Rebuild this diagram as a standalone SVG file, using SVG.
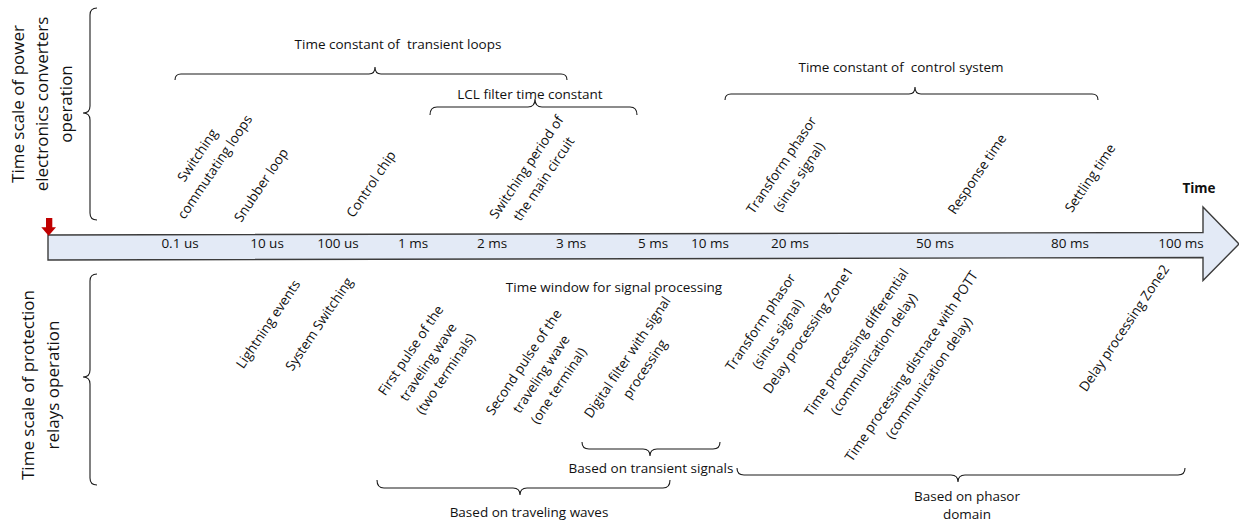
<svg xmlns="http://www.w3.org/2000/svg" width="1239" height="523" viewBox="0 0 1239 523">
<style>
text{font-family:"Open Sans","Liberation Sans",sans-serif;fill:#111;}
.t{font-size:13.5px;}
.tk{font-size:13.5px;text-anchor:middle;}
.lab{font-size:13.5px;text-anchor:middle;}
.big{font-size:17px;text-anchor:middle;}
.brace{fill:none;stroke:#1a1a1a;stroke-width:1.1;}
</style>
<rect width="1239" height="523" fill="#fff"/>
<g id="time-axis">
<polygon points="48,235 1203,232.5 1203,207 1239,244 1203,280.5 1203,257.5 48,260" fill="#e3eaf6" stroke="#3c3c3c" stroke-width="1.4"/>
<rect x="46" y="218" width="6.3" height="10" fill="#c00000"/>
<polygon points="41.3,227.3 56,227.3 48.6,235.7" fill="#c00000"/>
<text x="1199" y="193" style="font-size:13.5px;font-weight:bold;text-anchor:middle">Time</text>
</g>
<g id="ticks">
<text class="tk" x="180" y="248">0.1 us</text>
<text class="tk" x="267" y="248">10 us</text>
<text class="tk" x="338" y="248">100 us</text>
<text class="tk" x="413" y="248">1 ms</text>
<text class="tk" x="492" y="248">2 ms</text>
<text class="tk" x="571" y="248">3 ms</text>
<text class="tk" x="653" y="248">5 ms</text>
<text class="tk" x="710" y="248">10 ms</text>
<text class="tk" x="790" y="248">20 ms</text>
<text class="tk" x="935" y="248">50 ms</text>
<text class="tk" x="1070" y="248">80 ms</text>
<text class="tk" x="1181" y="248">100 ms</text>
</g>
<g id="label-power-electronics">
<text class="big" transform="translate(24,104) rotate(-90)"><tspan x="0" y="0">Time scale of power</tspan><tspan x="0" y="24">electronics converters</tspan><tspan x="0" y="48">operation</tspan></text>
</g>
<g id="label-protection">
<text class="big" transform="translate(34,385) rotate(-90)"><tspan x="0" y="0">Time scale of protection</tspan><tspan x="0" y="24.5">relays operation</tspan></text>
</g>
<g id="connectors">
<path class="brace" d="M97,8 Q90,8 90,15 V106 Q90,113 83,113 Q90,113 90,120 V213 Q90,220 97,220"/>
<path class="brace" d="M97,274 Q90,274 90,281 V370 Q90,377 83,377 Q90,377 90,384 V478 Q90,485 97,485"/>
<path class="brace" d="M175,80 Q175,74 181,74 H369 Q375,74 375,67 Q375,74 381,74 H561 Q567,74 567,80"/>
<path class="brace" d="M430,115 Q430,107 437,107 H528 Q535,107 535,99 Q535,107 542,107 H630 Q637,107 637,115"/>
<path class="brace" d="M725,100 Q725,94 731,94 H909 Q915,94 915,87 Q915,94 921,94 H1092 Q1098,94 1098,100"/>
<path class="brace" d="M582,442 Q582,449 589,449 H643 Q650,449 650,456 Q650,449 657,449 H713 Q720,449 720,442"/>
<path class="brace" d="M377,480 Q377,488 384,488 H513 Q520,488 520,495 Q520,488 527,488 H663 Q670,488 670,480"/>
<path class="brace" d="M737,468 Q737,475 744,475 H951 Q958,475 958,482 Q958,475 965,475 H1178 Q1185,475 1185,468"/>
</g>
<g id="group-labels">
<text class="t" x="398" y="49" text-anchor="middle" xml:space="preserve">Time constant of  transient loops</text>
<text class="t" x="530" y="99" text-anchor="middle">LCL filter time constant</text>
<text class="t" x="901" y="72" text-anchor="middle" xml:space="preserve">Time constant of  control system</text>
<text class="t" x="614" y="292" text-anchor="middle">Time window for signal processing</text>
<text class="t" x="651" y="473" text-anchor="middle">Based on transient signals</text>
<text class="t" x="529" y="517" text-anchor="middle">Based on traveling waves</text>
<text class="t" text-anchor="middle"><tspan x="967" y="501">Based on phasor</tspan><tspan x="967" y="519">domain</tspan></text>
</g>
<g id="ev-switching"><text class="lab" transform="translate(206,161) rotate(-56)"><tspan x="0" y="-5.7">Switching</tspan><tspan x="0" y="15.3">commutating loops</tspan></text></g>
<g id="ev-snubber"><text class="lab" transform="translate(261,185) rotate(-56)"><tspan x="0" y="4.8">Snubber loop</tspan></text></g>
<g id="ev-control-chip"><text class="lab" transform="translate(371,184) rotate(-56)"><tspan x="0" y="4.8">Control chip</tspan></text></g>
<g id="ev-switching-period"><text class="lab" transform="translate(535,173) rotate(-56)"><tspan x="0" y="-5.7">Switching period of</tspan><tspan x="0" y="15.3">the main circuit</tspan></text></g>
<g id="ev-transform-top"><text class="lab" transform="translate(790,171) rotate(-56)"><tspan x="0" y="-5.7">Transform phasor</tspan><tspan x="0" y="15.3">(sinus signal)</tspan></text></g>
<g id="ev-response"><text class="lab" transform="translate(977,174) rotate(-56)"><tspan x="0" y="4.8">Response time</tspan></text></g>
<g id="ev-settling"><text class="lab" transform="translate(1090,178) rotate(-56)"><tspan x="0" y="4.8">Settling time</tspan></text></g>
<g id="ev-lightning"><text class="lab" transform="translate(268,324) rotate(-56)"><tspan x="0" y="4.8">Lightning events</tspan></text></g>
<g id="ev-system-switching"><text class="lab" transform="translate(319,324) rotate(-56)"><tspan x="0" y="4.8">System Switching</tspan></text></g>
<g id="ev-first-pulse"><text class="lab" transform="translate(428,362) rotate(-56)"><tspan x="0" y="-16.2">First pulse of the</tspan><tspan x="0" y="4.8">traveling wave</tspan><tspan x="0" y="25.8">(two terminals)</tspan></text></g>
<g id="ev-second-pulse"><text class="lab" transform="translate(541,374) rotate(-56)"><tspan x="0" y="-16.2">Second pulse of the</tspan><tspan x="0" y="4.8">traveling wave</tspan><tspan x="0" y="25.8">(one terminal)</tspan></text></g>
<g id="ev-digital-filter"><text class="lab" transform="translate(636,363) rotate(-56)"><tspan x="0" y="-5.7">Digital filter with signal</tspan><tspan x="0" y="15.3">processing</tspan></text></g>
<g id="ev-transform-bottom"><text class="lab" transform="translate(769,328) rotate(-56)"><tspan x="0" y="-5.7">Transform phasor</tspan><tspan x="0" y="15.3">(sinus signal)</tspan></text></g>
<g id="ev-zone1"><text class="lab" transform="translate(808,330) rotate(-56)"><tspan x="0" y="4.8">Delay processing Zone1</tspan></text></g>
<g id="ev-differential"><text class="lab" transform="translate(865,348) rotate(-56)"><tspan x="0" y="-5.7">Time processing differential</tspan><tspan x="0" y="15.3">(communication delay)</tspan></text></g>
<g id="ev-pott"><text class="lab" transform="translate(920,372) rotate(-56)"><tspan x="0" y="-5.7">Time processing distnace with POTT</tspan><tspan x="0" y="15.3">(communication delay)</tspan></text></g>
<g id="ev-zone2"><text class="lab" transform="translate(1124,328) rotate(-56)"><tspan x="0" y="4.8">Delay processing Zone2</tspan></text></g>
</svg>
